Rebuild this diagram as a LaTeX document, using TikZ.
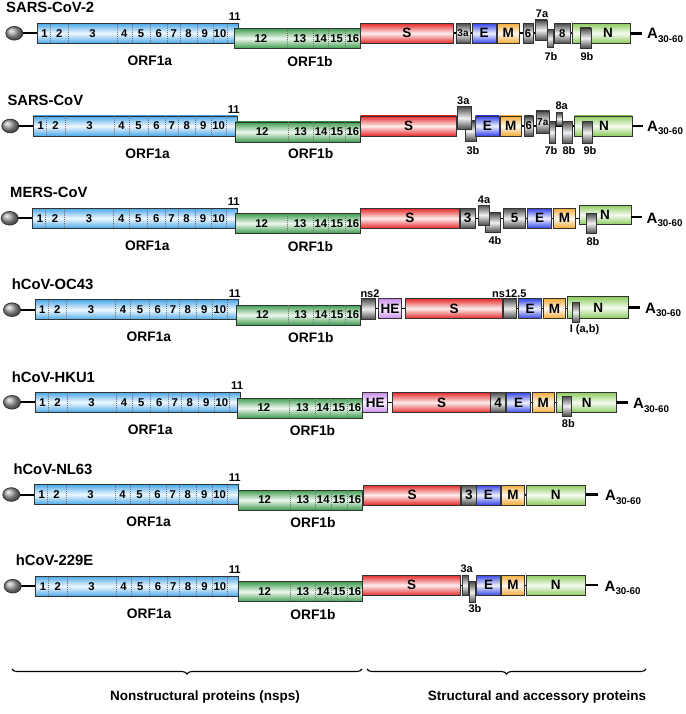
\documentclass[tikz,border=0pt]{standalone}
\usepackage{fontspec}
\setmainfont{Liberation Sans}
\usetikzlibrary{decorations.pathreplacing,calc}

\definecolor{cblue}{HTML}{4AA8EA}
\definecolor{cgreen}{HTML}{3C9C4C}
\definecolor{cred}{HTML}{E52828}
\definecolor{cE}{HTML}{3344E6}
\definecolor{cM}{HTML}{F4AA35}
\definecolor{cN}{HTML}{8CCB5C}
\definecolor{cgray}{HTML}{4A4A4A}
\definecolor{cHE}{HTML}{C98BEB}
\definecolor{cline}{HTML}{333333}

\tikzset{
 boxline/.style={draw=cline, line width=0.8pt},
 divline/.style={draw=cline!70, line width=0.35pt, dash pattern=on 1pt off 1pt},
 gline/.style={line width=1.6pt, black},
 tailline/.style={line width=2.6pt, black},
 ttl/.style={font=\bfseries\fontsize{14.8}{14.8}\selectfont, inner sep=0pt},
 orf/.style={font=\bfseries\fontsize{13.8}{13.8}\selectfont, inner sep=0pt},
 num/.style={font=\bfseries\fontsize{11.3}{11.3}\selectfont, inner sep=0pt},
 big/.style={font=\bfseries\fontsize{13.5}{13.5}\selectfont, inner sep=0pt},
 tlab/.style={font=\bfseries\fontsize{11}{11}\selectfont, inner sep=0pt},
 smlab/.style={font=\bfseries\fontsize{10}{10}\selectfont, inner sep=0pt},
}

% #1 name #2 colour #3 x0 #4 y0 #5 x1 #6 y1 #7 label style #8 label
\newcommand\gbox[8]{%
 \shade[top color=#2, bottom color=#2, middle color=#2!8!white] (#3,#4) rectangle (#5,#6);
 \draw[boxline] (#3,#4) rectangle (#5,#6);
 \node[#7] (#1) at ({(#3+#5)/2},{(#4+#6)/2}) {#8};
}

% #1 id #2 c #3 c2 #4 x0 #5 x1 #6 xb0 #7 xb1 #8 title #9 title x
\newcommand\lefthalf[9]{%
 \node[ttl, anchor=west] (t#1) at (#9,#2-25.5) {#8};
 \draw[line width=2pt] (#4-16,#2) -- (#4,#2);
 \shade[ball color=gray!75] (#4-23,#2) ellipse [x radius=8.5pt, y radius=6.8pt];
 \draw[boxline] (#4-23,#2) ellipse [x radius=8.5pt, y radius=6.8pt];
 \gbox{orfa#1}{cblue}{#4}{#2-10}{#5}{#2+10}{num}{}
 \foreach \f in {0.063,0.154,0.395,0.470,0.561,0.647,0.710,0.793,0.873,0.945}
   \draw[divline] ({#4+\f*(#5-#4)},#2-9.6) -- ({#4+\f*(#5-#4)},#2+9.6);
 \foreach \f/\lbl in {0.036/1,0.109/2,0.275/3,0.433/4,0.516/5,0.604/6,0.679/7,0.752/8,0.833/9,0.909/10}
   \node[num] at ({#4+\f*(#5-#4)},#2) {\lbl};
 \node[num] (eleven#1) at (#5-3.5,#2-16.5) {11};
 \gbox{orfb#1}{cgreen}{#6}{#3-10}{#7}{#3+10}{num}{}
 \foreach \f in {0.416,0.621,0.744,0.876}
   \draw[divline] ({#6+\f*(#7-#6)},#3-9.6) -- ({#6+\f*(#7-#6)},#3+9.6);
 \foreach \f/\lbl in {0.212/12,0.519/13,0.683/14,0.810/15,0.938/16}
   \node[num] at ({#6+\f*(#7-#6)},#3) {\lbl};
 \node[orf] (la#1) at ({#4+0.56*(#5-#4)},#2+27.5) {ORF1a};
 \node[orf] (lb#1) at ({#6+0.6*(#7-#6)},#2+28) {ORF1b};
}

% #1 name #2 x #3 centre y
\newcommand\polyA[3]{%
 \node[anchor=base west, inner sep=0pt] (#1) at (#2,#3+5.3)
   {\bfseries\fontsize{15}{15}\selectfont A\raisebox{-3.5pt}{\fontsize{9.8}{9.8}\selectfont 30-60}};
}

\begin{document}
\begin{tikzpicture}[x=1pt,y=-1pt]
\fill[white] (0,0) rectangle (685,714);
\useasboundingbox (0,0) rectangle (685,714);

%%%%%%%% Row 1: SARS-CoV-2
\lefthalf{1}{33.3}{38.3}{37.3}{238.3}{234}{360.7}{SARS-CoV-2}{6}
\draw[gline] (453,33.3) -- (572,33.3);
\gbox{s1}{cred}{360.7}{23.3}{453}{43.3}{big}{S}
\gbox{p3a1}{cgray}{456}{23.3}{470}{43.3}{smlab}{3a}
\gbox{e1}{cE}{472}{23.3}{496}{43.3}{big}{E}
\gbox{m1}{cM}{497.5}{23.3}{519}{43.3}{big}{M}
\gbox{p61}{cgray}{523}{23.3}{533}{43.3}{num}{6}
\gbox{p7a1}{cgray}{535}{20}{547}{40}{num}{}
\gbox{p7b1}{cgray}{547}{29.3}{553}{47.7}{num}{}
\gbox{p81}{cgray}{554.5}{23.3}{570}{43.3}{num}{8}
\gbox{n1}{cN}{572}{23.3}{630}{43.3}{num}{}
\gbox{p9b1}{cgray}{580}{28}{591}{48}{num}{}
\node[big] (nl1) at (608,33.3) {N};
\node[tlab] (l7a1) at (542,14) {7a};
\node[tlab] (l7b1) at (551,57) {7b};
\node[tlab] (l9b1) at (587,57) {9b};
\draw[tailline] (630,33.3) -- (642,33.3);
\polyA{pa1}{647}{33.3}

%%%%%%%% Row 2: SARS-CoV
\lefthalf{2}{126}{132}{33.3}{237.3}{235.7}{360.7}{SARS-CoV}{7.3}
\draw[gline] (456.7,126) -- (574.3,126);
\gbox{s2}{cred}{360.7}{116}{456.7}{136}{big}{S}
\gbox{p3b2}{cgray}{465}{121}{476}{141}{num}{}
\gbox{p3a2}{cgray}{457.3}{106.7}{471}{129.3}{num}{}
\gbox{e2}{cE}{475.5}{116}{499}{136}{big}{E}
\gbox{m2}{cM}{500}{116}{521.7}{136}{big}{M}
\gbox{p62}{cgray}{524.3}{116}{533.3}{136}{num}{6}
\gbox{p7a2}{cgray}{536}{111}{549.5}{133}{smlab}{7a}
\gbox{p7b2}{cgray}{549.5}{121.7}{555.5}{143.3}{num}{}
\gbox{p8a2}{cgray}{556.7}{112.7}{562.3}{125}{num}{}
\gbox{p8b2}{cgray}{562.7}{121.7}{572.3}{143.3}{num}{}
\gbox{n2}{cN}{574.3}{116}{632.3}{136}{num}{}
\gbox{p9b2}{cgray}{582.7}{121.7}{592.3}{143.3}{num}{}
\node[big] (nl2) at (604,126) {N};
\node[tlab] (l3a2) at (463.3,100.5) {3a};
\node[tlab] (l3b2) at (473,151) {3b};
\node[tlab] (l8a2) at (561.7,105.7) {8a};
\node[tlab] (l7b2) at (551,151) {7b};
\node[tlab] (l8b2) at (569,151) {8b};
\node[tlab] (l9b2) at (590,151) {9b};
\draw[tailline] (632.3,126) -- (643,126);
\polyA{pa2}{647}{126}

%%%%%%%% Row 3: MERS-CoV
\lefthalf{3}{218.3}{223.3}{32.7}{237.3}{235}{360.7}{MERS-CoV}{10}
\draw[gline] (459,218.3) -- (579,218.3);
\gbox{s3}{cred}{360.7}{208.3}{459}{228.3}{big}{S}
\gbox{p33}{cgray}{460}{208.3}{475}{228.3}{big}{3}
\gbox{p4b3}{cgray}{485.7}{212.7}{500.7}{232.3}{num}{}
\gbox{p4a3}{cgray}{478.3}{205}{489}{225}{num}{}
\gbox{p53}{cgray}{503.3}{208.3}{525.7}{228.3}{big}{5}
\gbox{e3}{cE}{527.7}{208.3}{551.7}{228.3}{big}{E}
\gbox{m3}{cM}{553.3}{208.3}{575.7}{228.3}{big}{M}
\gbox{n3}{cN}{579}{205}{631}{224.5}{num}{}
\gbox{p8b3}{cgray}{586.7}{213.3}{596.7}{233.3}{num}{}
\node[big] (nl3) at (605,215) {N};
\node[tlab] (l4a3) at (484,199.5) {4a};
\node[tlab] (l4b3) at (495,241) {4b};
\node[tlab] (l8b3) at (593,241.7) {8b};
\draw[tailline] (631,217) -- (642,217);
\polyA{pa3}{646.5}{218}

%%%%%%%% Row 4: hCoV-OC43
\lefthalf{4}{309.7}{315}{35}{238.3}{236}{360.7}{hCoV-OC43}{11.7}
\draw[gline] (360.7,308.5) -- (567.3,308.5);
\gbox{ns24}{cgray}{361}{298.5}{375}{319.5}{num}{}
\gbox{he4}{cHE}{378.3}{298.5}{401.7}{318.5}{big}{HE}
\gbox{s4}{cred}{405.7}{298.5}{502.3}{318.5}{big}{S}
\gbox{ns124}{cgray}{503.3}{298.5}{516.7}{318.5}{num}{}
\gbox{e4}{cE}{518.3}{298.5}{541.7}{318.5}{big}{E}
\gbox{m4}{cM}{543.3}{298.5}{565.7}{318.5}{big}{M}
\gbox{n4}{cN}{567.3}{296.7}{628.3}{318.3}{num}{}
\gbox{i4}{cgray}{572.7}{302.3}{579}{322.3}{num}{}
\node[big] (nl4) at (598.3,307.5) {N};
\node[tlab] (lns24) at (370,293.3) {ns2};
\node[tlab] (lns124) at (509.3,293.3) {ns12.5};
\node[tlab] (li4) at (584.5,330) {I (a,b)};
\draw[tailline] (628.3,307.3) -- (640,307.3);
\polyA{pa4}{645}{308}

%%%%%%%% Row 5: hCoV-HKU1
\lefthalf{5}{402.3}{408}{35}{240.7}{237.3}{362.7}{hCoV-HKU1}{11.7}
\draw[gline] (387.7,402.5) -- (556.7,402.5);
\gbox{he5}{cHE}{362.7}{392.3}{387.7}{412.7}{big}{HE}
\gbox{s5}{cred}{392.7}{392.3}{490.7}{412.7}{big}{S}
\gbox{p45}{cgray}{490.7}{392.3}{505.7}{412.7}{big}{4}
\gbox{e5}{cE}{506.7}{392.3}{530.7}{412.7}{big}{E}
\gbox{m5}{cM}{532.3}{392.3}{554.3}{412.7}{big}{M}
\gbox{n5}{cN}{556.7}{392.3}{616}{412.7}{num}{}
\gbox{p8b5}{cgray}{562.7}{396}{571.7}{416}{num}{}
\node[big] (nl5) at (586.7,402.5) {N};
\node[tlab] (l8b5) at (568.3,424) {8b};
\draw[tailline] (616,402.3) -- (628,402.3);
\polyA{pa5}{633}{403.5}

%%%%%%%% Row 6: hCoV-NL63
\lefthalf{6}{494.5}{500}{34.3}{238.3}{238.3}{362.7}{hCoV-NL63}{13.3}
\draw[gline] (460.7,495) -- (526,495);
\gbox{s6}{cred}{363.3}{485}{460.7}{505}{big}{S}
\gbox{p36}{cgray}{461.7}{485}{476}{505}{big}{3}
\gbox{e6}{cE}{476.7}{485}{500}{505}{big}{E}
\gbox{m6}{cM}{501.7}{485}{524.3}{505}{big}{M}
\gbox{n6}{cN}{526}{485}{585.7}{505}{big}{N}
\draw[tailline] (585.7,494.5) -- (597.7,494.5);
\polyA{pa6}{605}{495.5}

%%%%%%%% Row 7: hCoV-229E
\lefthalf{7}{586.2}{591.7}{35.7}{238.3}{238.3}{362.7}{hCoV-229E}{15.7}
\draw[gline] (460.7,585.3) -- (526,585.3);
\gbox{s7}{cred}{362.7}{575}{460.7}{595.5}{big}{S}
\gbox{p3a7}{cgray}{462.7}{575}{468.3}{595.5}{num}{}
\gbox{p3b7}{cgray}{469}{581.7}{475}{602.7}{num}{}
\gbox{e7}{cE}{476.7}{575}{500.7}{595.5}{big}{E}
\gbox{m7}{cM}{501.7}{575}{524.3}{595.5}{big}{M}
\gbox{n7}{cN}{526}{575}{585.7}{595.5}{big}{N}
\node[tlab] (l3a7) at (466.7,569) {3a};
\node[tlab] (l3b7) at (475,609) {3b};
\draw[tailline] (585.7,585) -- (597.7,585);
\polyA{pa7}{604.5}{586}

%%%%%%%% Braces and captions
\draw[decorate, decoration={brace, amplitude=5pt, mirror}, line width=1.1pt]
  (12,669) -- (362,669);
\draw[decorate, decoration={brace, amplitude=5pt, mirror}, line width=1.1pt]
  (367,669) -- (646,669);
\node[orf, font=\bfseries\fontsize{13.5}{13.5}\selectfont] (cap1) at (205,697) {Nonstructural proteins (nsps)};
\node[orf, font=\bfseries\fontsize{13.5}{13.5}\selectfont] (cap2) at (537,697) {Structural and accessory proteins};
\end{tikzpicture}
\end{document}
